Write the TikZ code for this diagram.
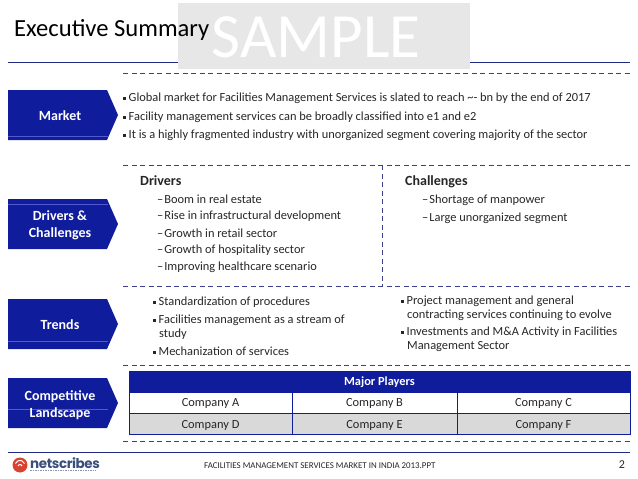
\documentclass[tikz,border=0pt]{standalone}
\usepackage{fontspec}
\setmainfont{Carlito}
\newfontfamily\logofont[LetterSpace=-3]{Poppins}
\usepackage{xcolor}
\definecolor{navy}{HTML}{0F1C9B}
\definecolor{rulenavy}{HTML}{1F2A80}
\definecolor{dashnavy}{HTML}{3B3F8C}
\definecolor{samplegrey}{HTML}{E7E7E7}
\definecolor{rowgrey}{HTML}{D9D9D9}
\definecolor{logored}{HTML}{D8432F}
\definecolor{logoblue}{HTML}{3A4F7A}
\tikzset{
    dashline/.style={dashnavy,line width=0.9pt,dash pattern=on 5pt off 3.5pt},
    chevlabel/.style={text=white,font=\fontsize{14}{17}\selectfont\bfseries,align=center},
    bodytext/.style={anchor=west,inner sep=0pt,font=\fontsize{12.4}{14}\selectfont,text=black!85},
    headtext/.style={anchor=west,inner sep=0pt,font=\fontsize{14}{14}\selectfont\bfseries,text=black!85},
    cell/.style={draw=navy,line width=0.6pt,minimum height=21.5pt,inner sep=0pt,text height=8pt,text depth=0pt,font=\fontsize{12.4}{13}\selectfont,text=black!85},
}
\newcommand{\blt}{\raisebox{1.5pt}{\rule{3pt}{3pt}}\hspace{2.5pt}}
\newcommand{\chevron}[3]{% top y, line y, name
    \fill[navy] (8,#1) -- ++(99,0) -- ++(11,25) -- ++(-11,25) -- ++(-99,0) -- cycle;
    \draw[blue!30!navy!70!white,line width=0.4pt] (8,#2) -- (108,#2);
}
\begin{document}
\begin{tikzpicture}[x=1pt,y=-1pt]
    \useasboundingbox (0,0) rectangle (638,479);

    % title band
    \fill[samplegrey] (178,3) rectangle (470,69);
    \node[text=white,font=\fontsize{63}{63}\selectfont] (sample) at (316,37) {SAMPLE};
    \node[anchor=west,inner sep=0pt,font=\fontsize{24.6}{26}\selectfont] (title) at (14,30) {Executive Summary};
    \draw[rulenavy,line width=0.9pt] (8,62.5) -- (178,62.5);
    \draw[rulenavy,line width=0.9pt] (470,62.5) -- (630,62.5);

    % dashed separators
    \foreach \y in {73,165,286.5,365,441}
        \draw[dashline] (123,\y) -- (630,\y);
    \draw[dashline] (382,165) -- (382,286.5);

    % left chevrons
    \chevron{90}{136}{marketpos}
    \chevron{199}{204}{driverspos}
    \chevron{299}{341}{trendspos}
    \chevron{378}{409}{landscapepos}
    \node[chevlabel] (market) at (60,116) {Market};
    \node[chevlabel] (drivers) at (60,225.5) {Drivers \&\\Challenges};
    \node[chevlabel] (trends) at (60,325) {Trends};
    \node[chevlabel] (landscape) at (60,405) {Competitive\\Landscape};

    % market
    \node[bodytext] (mkta) at (123,98.5) {\blt Global market for Facilities Management Services is slated to reach \textasciitilde{}- bn by the end of 2017};
    \node[bodytext] (mktb) at (123,117) {\blt Facility management services can be broadly classified into e1 and e2};
    \node[bodytext] (mktc) at (123,135) {\blt It is a highly fragmented industry with unorganized segment covering majority of the sector};

    % drivers
    \node[headtext] (drv) at (140,180.5) {Drivers};
    \node[bodytext] (drva) at (157,199) {–\kern1pt Boom in real estate};
    \node[bodytext] (drvb) at (157,216) {–\kern1pt Rise in infrastructural development};
    \node[bodytext] (drvc) at (157,233) {–\kern1pt Growth in retail sector};
    \node[bodytext] (drvd) at (157,250) {–\kern1pt Growth of hospitality sector};
    \node[bodytext] (drve) at (157,267) {–\kern1pt Improving healthcare scenario};

    % challenges
    \node[headtext] (chl) at (405,181.5) {Challenges};
    \node[bodytext] (chla) at (422,200.5) {–\kern1pt Shortage of manpower};
    \node[bodytext] (chlb) at (422,218.5) {–\kern1pt Large unorganized segment};

    % trends
    \node[bodytext] (trda) at (153,302) {\blt Standardization of procedures};
    \node[bodytext,align=left] (trdb) at (153,327) {\blt Facilities management as a stream of\\\hspace{6pt}study};
    \node[bodytext] (trdc) at (153,351) {\blt Mechanization of services};
    \node[bodytext,align=left] (trdd) at (401,308) {\blt Project management and general\\\hspace{6pt}contracting services continuing to evolve};
    \node[bodytext,align=left] (trde) at (401,339) {\blt Investments and M\&A Activity in Facilities\\\hspace{6pt}Management Sector};

    % players table
    \node[cell,fill=navy,minimum width=501pt,minimum height=21pt,text=white,font=\fontsize{12.4}{13}\selectfont\bfseries] (major) at (379.5,381.5) {Major Players};
    \node[cell,minimum width=163pt] (compa) at (210.5,402.5) {Company A};
    \node[cell,minimum width=165pt] (compb) at (374.5,402.5) {Company B};
    \node[cell,minimum width=173pt] (compc) at (543.5,402.5) {Company C};
    \node[cell,fill=rowgrey,minimum width=163pt] (compd) at (210.5,424) {Company D};
    \node[cell,fill=rowgrey,minimum width=165pt] (compe) at (374.5,424) {Company E};
    \node[cell,fill=rowgrey,minimum width=173pt] (compf) at (543.5,424) {Company F};

    % footer
    \draw[rulenavy,line width=0.9pt] (8,452) -- (630,452);
    \fill[logored] (20,465) circle (7.5);
    \draw[white,line width=1pt] (15.5,463.5) arc (200:340:4.8);
    \draw[white,line width=1pt] (18,466) arc (200:340:2.2);
    \node[anchor=west,inner sep=0pt,text=logoblue,font=\logofont\fontsize{13.5}{16}\selectfont\bfseries] (logo) at (30,463) {netscribes};
    \draw[logoblue!60,line width=0.7pt,dash pattern=on 1.5pt off 1pt] (30,470) -- (96,470);
    \node[anchor=west,inner sep=0pt,font=\fontsize{8.9}{10}\selectfont,text=black!85] (foot) at (204,466) {FACILITIES MANAGEMENT SERVICES MARKET IN INDIA 2013.PPT};
    \node[inner sep=0pt,font=\fontsize{12}{13}\selectfont,text=black!85] (page) at (622,465) {2};
\end{tikzpicture}
\end{document}
